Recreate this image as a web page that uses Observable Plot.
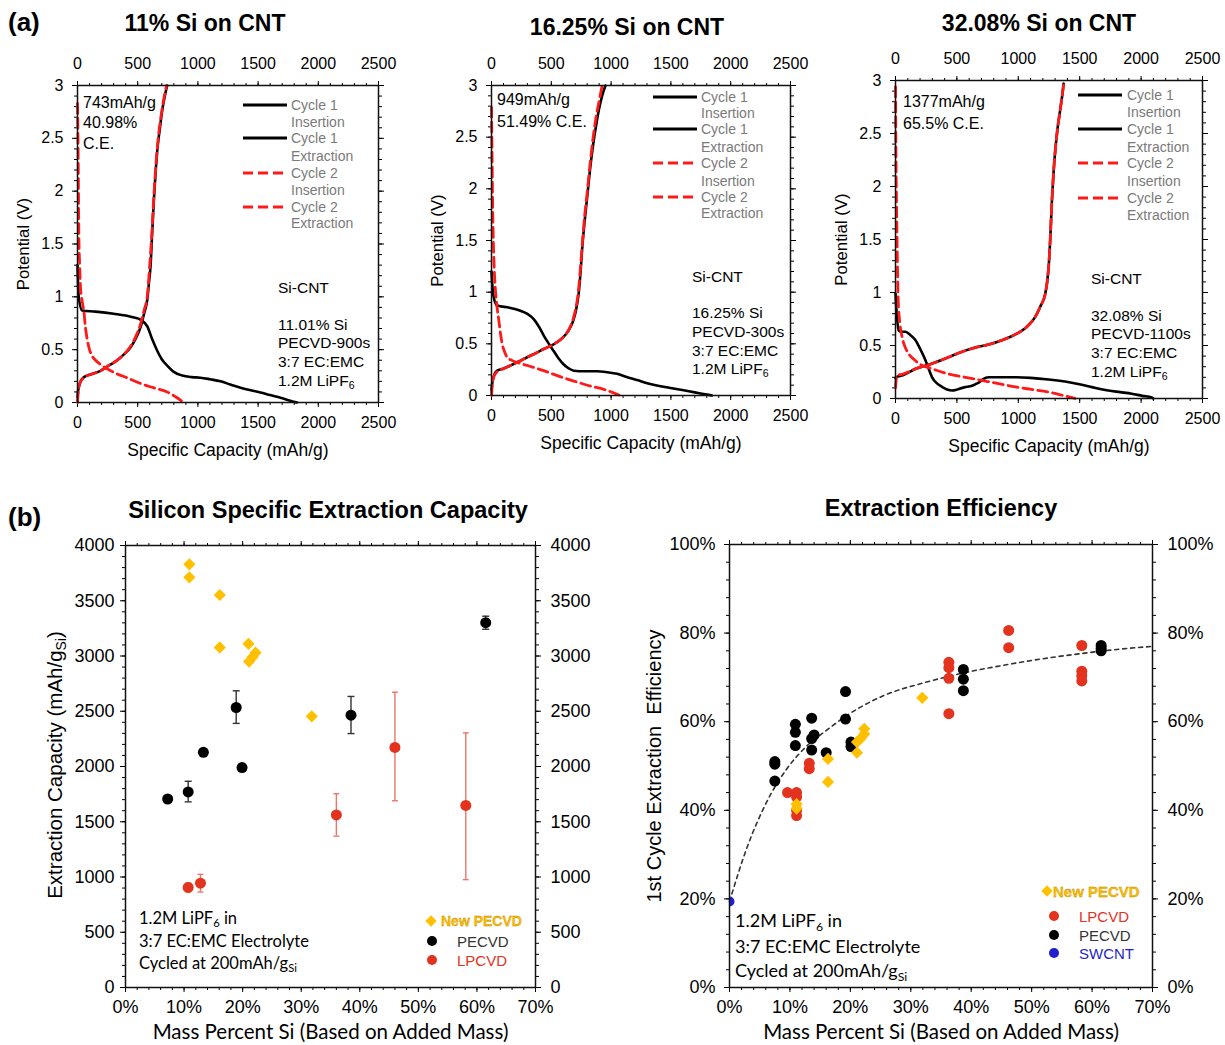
<!DOCTYPE html>
<html>
<head>
<meta charset="utf-8">
<script src="https://cdn.jsdelivr.net/npm/d3@7"></script>
<script src="https://cdn.jsdelivr.net/npm/@observablehq/plot@0.6"></script>
<style>
html,body{margin:0;padding:0;background:#fff;}
#root{position:relative;width:1225px;height:1045px;overflow:hidden;background:#fff;}
#root > svg{position:absolute;}
.t{position:absolute;white-space:nowrap;line-height:1;}
.t sub{font-size:0.68em;vertical-align:-0.3em;line-height:0;}
.sw{position:absolute;}
</style>
</head>
<body>
<div id="root"></div>
<script>
// ---------------- DATA ----------------
// Panel (a): voltage profiles, [specific capacity (mAh/g), potential (V)]
const capTicks = [0, 500, 1000, 1500, 2000, 2500];
const potTicks = [0, 0.5, 1, 1.5, 2, 2.5, 3];

const a1_c1_ins = [[0,1.3],[10,1.0],[39,0.87],[150,0.86],[300,0.84],[450,0.81],[530,0.78],[580,0.72],[620,0.6],[662,0.49],[700,0.41],[745,0.35],[800,0.29],[870,0.255],[950,0.24],[1021,0.235],[1100,0.22],[1188,0.2],[1270,0.17],[1354,0.14],[1440,0.115],[1520,0.095],[1600,0.07],[1686,0.045],[1760,0.02],[1824,0.0]];
const a1_c1_ext = [[0,0.05],[5,0.11],[20,0.18],[53,0.24],[120,0.27],[191,0.30],[260,0.35],[330,0.40],[390,0.46],[440,0.52],[490,0.62],[523,0.71],[555,0.85],[579,0.97],[595,1.15],[606,1.28],[620,1.6],[634,1.91],[650,2.2],[662,2.38],[685,2.6],[703,2.76],[725,2.9],[745,3.0]];
const a1_c2_ins = [[0,2.83],[5,2.4],[8,2.0],[11,1.6],[18,1.3],[25,1.09],[40,0.95],[53,0.86],[65,0.72],[80,0.6],[100,0.5],[122,0.44],[150,0.40],[191,0.36],[260,0.31],[330,0.27],[420,0.23],[523,0.18],[630,0.14],[745,0.10],[820,0.05],[883,0.0]];
const a1_c2_ext = [[0,0.0],[8,0.12],[25,0.2],[60,0.24],[120,0.27],[191,0.30],[260,0.35],[330,0.40],[390,0.46],[440,0.53],[490,0.64],[523,0.74],[555,0.88],[579,1.0],[600,1.3],[620,1.65],[634,1.95],[662,2.4],[703,2.78],[740,3.0]];

const a2_c1_ins = [[0,1.2],[14,0.98],[47,0.87],[150,0.85],[242,0.82],[300,0.79],[353,0.74],[400,0.66],[437,0.58],[480,0.50],[520,0.43],[560,0.36],[604,0.3],[650,0.26],[688,0.24],[780,0.235],[883,0.235],[970,0.225],[1050,0.21],[1130,0.18],[1217,0.15],[1310,0.115],[1412,0.09],[1510,0.07],[1607,0.05],[1700,0.03],[1774,0.015],[1844,0]];
const a2_c1_ext = [[0,0.05],[5,0.11],[20,0.19],[47,0.24],[100,0.26],[159,0.29],[230,0.33],[298,0.37],[370,0.41],[437,0.45],[510,0.49],[576,0.54],[620,0.59],[660,0.66],[685,0.73],[702,0.8],[718,0.9],[730,1.0],[745,1.2],[758,1.42],[780,1.7],[799,1.91],[825,2.2],[855,2.47],[880,2.65],[897,2.76],[925,2.9],[953,3.0]];
const a2_c2_ins = [[0,2.79],[5,2.3],[10,1.8],[14,1.56],[22,1.25],[33,1.02],[47,0.85],[61,0.73],[75,0.6],[89,0.5],[110,0.42],[131,0.37],[170,0.34],[214,0.32],[300,0.29],[437,0.24],[580,0.18],[716,0.13],[830,0.09],[939,0.06],[1010,0.03],[1078,0]];
const a2_c2_ext = [[0,0],[8,0.12],[19,0.18],[47,0.23],[100,0.26],[159,0.29],[230,0.33],[298,0.37],[370,0.41],[437,0.45],[510,0.49],[576,0.54],[620,0.59],[660,0.67],[685,0.75],[702,0.83],[718,0.93],[730,1.05],[745,1.25],[758,1.45],[780,1.75],[799,1.95],[825,2.25],[850,2.5],[875,2.7],[900,2.85],[925,3.0]];

const a3_c1_ins = [[0,0.99],[10,0.8],[27,0.64],[50,0.63],[81,0.63],[120,0.6],[163,0.55],[200,0.47],[244,0.36],[270,0.28],[298,0.2],[340,0.14],[379,0.11],[420,0.085],[461,0.075],[490,0.08],[515,0.09],[560,0.105],[623,0.12],[660,0.14],[678,0.15],[710,0.18],[759,0.2],[860,0.2],[976,0.2],[1100,0.195],[1247,0.18],[1380,0.16],[1518,0.13],[1630,0.1],[1734,0.075],[1830,0.06],[1924,0.045],[2010,0.025],[2087,0.01],[2100,0]];
const a3_c1_ext = [[0,0.19],[5,0.2],[60,0.22],[163,0.28],[300,0.33],[434,0.39],[540,0.44],[650,0.48],[760,0.51],[867,0.55],[950,0.59],[1030,0.64],[1090,0.7],[1138,0.77],[1180,0.87],[1220,0.99],[1235,1.1],[1247,1.24],[1260,1.5],[1274,1.87],[1288,2.15],[1301,2.34],[1320,2.55],[1341,2.72],[1360,2.88],[1369,2.97]];
const a3_c2_ins = [[0,2.94],[3,2.4],[8,1.87],[14,1.4],[22,0.92],[35,0.72],[54,0.58],[80,0.48],[108,0.42],[150,0.37],[190,0.33],[300,0.28],[434,0.23],[570,0.2],[705,0.17],[840,0.14],[976,0.11],[1110,0.085],[1247,0.06],[1360,0.03],[1463,0]];
const a3_c2_ext = [[0,0.1],[6,0.18],[14,0.22],[60,0.23],[163,0.28],[300,0.33],[434,0.39],[540,0.44],[650,0.48],[760,0.51],[867,0.55],[950,0.59],[1030,0.64],[1090,0.7],[1138,0.77],[1180,0.87],[1220,0.99],[1235,1.1],[1247,1.24],[1260,1.5],[1274,1.87],[1288,2.15],[1301,2.34],[1320,2.55],[1341,2.72],[1360,2.88],[1372,3.0]];

// Panel (b) left: extraction capacity vs mass percent Si
const pctTicks = [0, 10, 20, 30, 40, 50, 60, 70];
const capYTicks = [0, 500, 1000, 1500, 2000, 2500, 3000, 3500, 4000];
const capNewX = [10.9, 10.9, 16.1, 16.1, 21.0, 21.1, 21.7, 22.2, 31.8];
const capNewY = [3830, 3712, 3552, 3078, 3110, 2950, 2990, 3030, 2454];
const capPeX  = [7.2, 10.7, 13.3, 18.9, 19.9, 38.5, 61.5];
const capPeY  = [1706, 1770, 2128, 2534, 1990, 2464, 3302];
const capPeLo = [1676, 1680, 2098, 2390, 1960, 2298, 3242];
const capPeHi = [1736, 1866, 2158, 2685, 2020, 2634, 3360];
const capLpX  = [10.7, 12.8, 36.0, 46.0, 58.1];
const capLpY  = [906, 944, 1562, 2173, 1648];
const capLpLo = [866, 864, 1370, 1690, 976];
const capLpHi = [946, 1024, 1754, 2672, 2304];

// Panel (b) right: 1st cycle extraction efficiency (%) vs mass percent Si
const effTicks = [0, 20, 40, 60, 80, 100];
const effPeX = [7.5, 7.5, 7.5, 10.9, 10.9, 10.9, 13.6, 13.6, 14.0, 13.6, 16.0, 19.2, 19.2, 20.1, 20.1, 38.7, 38.7, 38.7, 61.5, 61.5, 61.5];
const effPeY = [51.0, 50.4, 46.6, 59.4, 57.6, 54.6, 60.8, 56.2, 57.0, 53.6, 53.0, 66.8, 60.6, 55.4, 54.4, 71.8, 69.6, 67.0, 77.2, 76.6, 76.0];
const effLpX = [9.6, 11.1, 11.1, 11.1, 11.1, 13.2, 13.2, 36.3, 36.3, 36.3, 36.3, 46.2, 46.2, 58.3, 58.3, 58.3, 58.3];
const effLpY = [44.0, 44.0, 43.0, 40.0, 38.8, 50.6, 49.4, 73.4, 72.2, 69.8, 61.8, 80.6, 76.7, 77.2, 71.4, 70.4, 69.2];
const effNewX = [11.1, 11.1, 16.3, 16.3, 21.1, 21.1, 21.7, 22.3, 22.3, 31.9];
const effNewY = [41.4, 40.4, 51.6, 46.4, 53.0, 55.4, 56.2, 57.2, 58.4, 65.4];
const effSwX = [0];
const effSwY = [19.4];
const fitX = [0, 2.9, 6.2, 9.4, 12.7, 16.0, 19.2, 25.7, 32.2, 38.7, 45.2, 51.8, 58.3, 64.8, 70];
const fitY = [19.4, 31.6, 42, 49.2, 54.4, 58, 61.2, 66, 68.8, 71, 72.7, 74.2, 75.4, 76.4, 77.0];

// ---------------- STYLE ----------------
const SANS = '"Liberation Sans", Arial, Helvetica, sans-serif';
const LATO = 'Lato, "Open Sans", sans-serif';
const GOLD = "#FFC000", LPRED = "#E3321D", BLUE = "#1F1FCC", DRED = "#FF1A1A";
const root = document.getElementById("root");

function place(svg, left, top) {
  svg.style.left = left + "px";
  svg.style.top = top + "px";
  root.appendChild(svg);
}
function txt(html, x, y, o = {}) {
  const d = document.createElement("div");
  d.className = "t";
  d.innerHTML = html;
  const tx = o.anchor === "middle" ? "-50%" : o.anchor === "end" ? "-100%" : "0";
  d.style.left = x + "px";
  d.style.top = y + "px";
  d.style.transform = `translate(${tx},-50%)` + (o.rotate ? ` rotate(${o.rotate}deg)` : "");
  d.style.fontSize = (o.size || 15) + "px";
  d.style.fontFamily = o.font || SANS;
  d.style.fontWeight = o.weight || "normal";
  d.style.color = o.color || "#000";
  if (o.stroke) d.style.webkitTextStroke = o.stroke;
  root.appendChild(d);
  return d;
}
function lineSwatch(x, y, w, dashed) {
  const ns = "http://www.w3.org/2000/svg";
  const s = document.createElementNS(ns, "svg");
  s.setAttribute("width", w); s.setAttribute("height", 6);
  s.setAttribute("class", "sw");
  s.style.left = x + "px"; s.style.top = (y - 3) + "px"; s.style.position = "absolute";
  const l = document.createElementNS(ns, "line");
  l.setAttribute("x1", 0); l.setAttribute("x2", w); l.setAttribute("y1", 3); l.setAttribute("y2", 3);
  l.setAttribute("stroke", dashed ? DRED : "#000");
  l.setAttribute("stroke-width", 3);
  if (dashed) l.setAttribute("stroke-dasharray", "10,5");
  s.appendChild(l);
  root.appendChild(s);
}
function marker(x, y, shape, color, size) {
  const d = document.createElement("div");
  d.style.position = "absolute";
  const s = size;
  d.style.width = s + "px"; d.style.height = s + "px";
  d.style.left = (x - s / 2) + "px"; d.style.top = (y - s / 2) + "px";
  d.style.background = color;
  if (shape === "circle") d.style.borderRadius = "50%";
  else d.style.transform = "rotate(45deg)";
  root.appendChild(d);
}

const noLabel = () => "";
const fmtNum = d => String(d);
const fmtPct = d => d + "%";

function axes4({xMaj, xMin, yMaj, yMin, xFmt, yFmt, topLabels, rightLabels, padX, padXT, padYL, padYR, fontSize}) {
  const m = [];
  m.push(Plot.axisX(xMin, {anchor: "bottom", tickSize: 3, tickFormat: noLabel, label: null}));
  m.push(Plot.axisX(xMaj, {anchor: "bottom", tickSize: 5, tickPadding: padX, tickFormat: xFmt, label: null, fontSize}));
  m.push(Plot.axisX(xMin, {anchor: "top", tickSize: 3, tickFormat: noLabel, label: null}));
  m.push(Plot.axisX(xMaj, {anchor: "top", tickSize: 5, tickPadding: padXT, tickFormat: topLabels ? xFmt : noLabel, label: null, fontSize}));
  m.push(Plot.axisY(yMin, {anchor: "left", tickSize: 3, tickFormat: noLabel, label: null}));
  m.push(Plot.axisY(yMaj, {anchor: "left", tickSize: 5, tickPadding: padYL, tickFormat: yFmt, label: null, fontSize}));
  m.push(Plot.axisY(yMin, {anchor: "right", tickSize: 3, tickFormat: noLabel, label: null}));
  m.push(Plot.axisY(yMaj, {anchor: "right", tickSize: 5, tickPadding: padYR, tickFormat: rightLabels ? yFmt : noLabel, label: null, fontSize}));
  return m;
}

const toPts = arr => arr.map(([c, v]) => ({c, v}));

// ---------------- PANEL (a) ----------------
function voltagePanel(p) {
  const marks = [
    ...axes4({xMaj: capTicks, xMin: d3.range(0, 2501, 100), yMaj: potTicks, yMin: d3.range(0, 3.001, 0.1),
      xFmt: fmtNum, yFmt: fmtNum, topLabels: true, rightLabels: false, padX: 9, padXT: 12, padYL: 9, padYR: 4, fontSize: 16}),
    Plot.line(toPts(p.c1ins), {x: "c", y: "v", stroke: "#000", strokeWidth: 2.6, curve: "monotone-x"}),
    Plot.line(toPts(p.c1ext), {x: "c", y: "v", stroke: "#000", strokeWidth: 2.6, curve: "monotone-x"}),
    Plot.line(toPts(p.c2ins), {x: "c", y: "v", stroke: DRED, strokeWidth: 2.8, strokeDasharray: "10,5", curve: "monotone-x"}),
    Plot.line(toPts(p.c2ext), {x: "c", y: "v", stroke: DRED, strokeWidth: 2.8, strokeDasharray: "10,5", curve: "monotone-x"}),
    Plot.frame({stroke: "#111", strokeWidth: 1.5}),
    Plot.text(["Specific Capacity (mAh/g)"], {frameAnchor: "bottom", dy: 48, text: d => d, fontSize: 17.5, textAnchor: "middle", lineAnchor: "middle"}),
    Plot.text(["Potential (V)"], {frameAnchor: "left", dx: -54, rotate: -90, text: d => d, fontSize: 16.8, textAnchor: "middle", lineAnchor: "middle"})
  ];
  const svg = Plot.plot({
    width: p.width, height: 465,
    marginLeft: p.ml, marginRight: p.mr, marginTop: p.mt, marginBottom: p.mb,
    x: {domain: [0, 2500], label: null},
    y: {domain: [0, 3], label: null},
    style: {fontFamily: SANS, fontSize: "16px", color: "#000", background: "transparent", overflow: "visible"},
    marks
  });
  place(svg, p.left, 0);
}

voltagePanel({left: 0, width: 410, ml: 77, mr: 32, mt: 85, mb: 63, c1ins: a1_c1_ins, c1ext: a1_c1_ext, c2ins: a1_c2_ins, c2ext: a1_c2_ext});
voltagePanel({left: 410, width: 410, ml: 81, mr: 30, mt: 85, mb: 70, c1ins: a2_c1_ins, c1ext: a2_c1_ext, c2ins: a2_c2_ins, c2ext: a2_c2_ext});
voltagePanel({left: 820, width: 405, ml: 75, mr: 23, mt: 80, mb: 67, c1ins: a3_c1_ins, c1ext: a3_c1_ext, c2ins: a3_c2_ins, c2ext: a3_c2_ext});

// ---------------- PANEL (b) left ----------------
{
  const nw = capNewX.map((x, i) => ({x, y: capNewY[i]}));
  const pe = capPeX.map((x, i) => ({x, y: capPeY[i], lo: capPeLo[i], hi: capPeHi[i]}));
  const lp = capLpX.map((x, i) => ({x, y: capLpY[i], lo: capLpLo[i], hi: capLpHi[i]}));
  const marks = [
    ...axes4({xMaj: pctTicks, xMin: d3.range(0, 70.1, 2), yMaj: capYTicks, yMin: d3.range(0, 4001, 100),
      xFmt: fmtPct, yFmt: fmtNum, topLabels: false, rightLabels: true, padX: 8, padXT: 4, padYL: 6, padYR: 10, fontSize: 18}),
    Plot.ruleX(lp, {x: "x", y1: "lo", y2: "hi", stroke: "#E8766A", strokeWidth: 1.4}),
    Plot.link(lp, {x1: d => d.x - 0.5, x2: d => d.x + 0.5, y1: "hi", y2: "hi", stroke: "#E8766A", strokeWidth: 1.4}),
    Plot.link(lp, {x1: d => d.x - 0.5, x2: d => d.x + 0.5, y1: "lo", y2: "lo", stroke: "#E8766A", strokeWidth: 1.4}),
    Plot.ruleX(pe, {x: "x", y1: "lo", y2: "hi", stroke: "#333", strokeWidth: 1.4}),
    Plot.link(pe, {x1: d => d.x - 0.6, x2: d => d.x + 0.6, y1: "hi", y2: "hi", stroke: "#333", strokeWidth: 1.4}),
    Plot.link(pe, {x1: d => d.x - 0.6, x2: d => d.x + 0.6, y1: "lo", y2: "lo", stroke: "#333", strokeWidth: 1.4}),
    Plot.dot(nw, {x: "x", y: "y", symbol: "diamond2", r: 5.5, fill: GOLD}),
    Plot.dot(pe, {x: "x", y: "y", r: 5.5, fill: "#000"}),
    Plot.dot(lp, {x: "x", y: "y", r: 5.5, fill: LPRED}),
    Plot.frame({stroke: "#111", strokeWidth: 1.5}),
    Plot.text(["Mass Percent Si (Based on Added Mass)"], {frameAnchor: "bottom", dy: 45, text: d => d, fontSize: 20.5, fontFamily: LATO, textAnchor: "middle", lineAnchor: "middle"})
  ];
  const svg = Plot.plot({
    width: 610, height: 565, marginLeft: 125, marginRight: 75, marginTop: 65, marginBottom: 58,
    x: {domain: [0, 70], label: null},
    y: {domain: [0, 4000], label: null},
    style: {fontFamily: SANS, fontSize: "18px", color: "#000", background: "transparent", overflow: "visible"},
    marks
  });
  place(svg, 0, 480);
}

// ---------------- PANEL (b) right ----------------
{
  const pe = effPeX.map((x, i) => ({x, y: effPeY[i]}));
  const lp = effLpX.map((x, i) => ({x, y: effLpY[i]}));
  const nw = effNewX.map((x, i) => ({x, y: effNewY[i]}));
  const sw = effSwX.map((x, i) => ({x, y: effSwY[i]}));
  const fit = fitX.map((x, i) => ({x, y: fitY[i]}));
  const marks = [
    ...axes4({xMaj: pctTicks, xMin: d3.range(0, 70.1, 2), yMaj: effTicks, yMin: d3.range(0, 100.1, 4),
      xFmt: fmtPct, yFmt: fmtPct, topLabels: false, rightLabels: true, padX: 8, padXT: 4, padYL: 9, padYR: 10, fontSize: 18}),
    Plot.line(fit, {x: "x", y: "y", stroke: "#333", strokeWidth: 1.6, strokeDasharray: "4,4", curve: "monotone-x"}),
    Plot.dot(pe, {x: "x", y: "y", r: 5.5, fill: "#000"}),
    Plot.dot(lp, {x: "x", y: "y", r: 5.5, fill: LPRED}),
    Plot.dot(nw, {x: "x", y: "y", symbol: "diamond2", r: 5.5, fill: GOLD}),
    Plot.dot(sw, {x: "x", y: "y", r: 5, fill: BLUE, clip: true}),
    Plot.frame({stroke: "#111", strokeWidth: 1.5}),
    Plot.text(["Mass Percent Si (Based on Added Mass)"], {frameAnchor: "bottom", dy: 45, text: d => d, fontSize: 20.5, fontFamily: LATO, textAnchor: "middle", lineAnchor: "middle"}),
    Plot.text(["1st Cycle Extraction  Efficiency"], {frameAnchor: "left", dx: -75, rotate: -90, text: d => d, fontSize: 20, textAnchor: "middle", lineAnchor: "middle"})
  ];
  const svg = Plot.plot({
    width: 615, height: 565, marginLeft: 119, marginRight: 73, marginTop: 64, marginBottom: 58,
    x: {domain: [0, 70], label: null},
    y: {domain: [0, 100], label: null},
    style: {fontFamily: SANS, fontSize: "18px", color: "#000", background: "transparent", overflow: "visible"},
    marks
  });
  place(svg, 610, 480);
}

// ---------------- TITLES & ANNOTATIONS ----------------
txt("(a)", 8, 22, {size: 26, weight: "bold"});
txt("11% Si on CNT", 205, 23, {size: 23, weight: "bold", anchor: "middle"});
txt("16.25% Si on CNT", 627, 27, {size: 23, weight: "bold", anchor: "middle"});
txt("32.08% Si on CNT", 1039, 23, {size: 23, weight: "bold", anchor: "middle"});
txt("(b)", 8, 517, {size: 26, weight: "bold"});
txt("Silicon Specific Extraction Capacity", 328, 511, {size: 23.5, weight: "bold", anchor: "middle"});
txt("Extraction Efficiency", 941, 509, {size: 23.5, weight: "bold", anchor: "middle"});

// panel a annotations
const legLabels = ["Cycle 1", "Insertion", "Cycle 1", "Extraction", "Cycle 2", "Insertion", "Cycle 2", "Extraction"];
function aLegend(x0, x1, tx, ys) {
  [0, 2, 4, 6].forEach((k, j) => lineSwatch(x0, ys[k], x1 - x0, j >= 2));
  legLabels.forEach((s, i) => txt(s, tx, ys[i], {size: 14, color: "#7a7a7a"}));
}
aLegend(243, 287, 291, [105, 122, 138, 156, 173, 190, 207, 223]);
aLegend(653, 697, 701, [97, 113, 129, 147, 163, 181, 197, 213]);
aLegend(1078, 1122, 1127, [95, 112, 129, 147, 163, 181, 198, 215]);

txt("743mAh/g", 83, 103, {size: 16});
txt("40.98%", 83, 123, {size: 16});
txt("C.E.", 83, 144, {size: 16});
txt("949mAh/g", 497, 100, {size: 16});
txt("51.49% C.E.", 497, 122, {size: 16});
txt("1377mAh/g", 903, 102, {size: 16});
txt("65.5% C.E.", 903, 124, {size: 16});

function sample(x, ys, lines) { lines.forEach((s, i) => txt(s, x, ys[i], {size: 15.5})); }
sample(278, [288, 325, 343, 362, 381], ["Si-CNT", "11.01% Si", "PECVD-900s", "3:7 EC:EMC", "1.2M LiPF<sub>6</sub>"]);
sample(692, [277, 313, 332, 351, 369], ["Si-CNT", "16.25% Si", "PECVD-300s", "3:7 EC:EMC", "1.2M LiPF<sub>6</sub>"]);
sample(1091, [279, 316, 334, 353, 372], ["Si-CNT", "32.08% Si", "PECVD-1100s", "3:7 EC:EMC", "1.2M LiPF<sub>6</sub>"]);

// panel b annotations
txt("Extraction Capacity (mAh/g<sub>Si</sub>)", 55, 765, {size: 20.5, anchor: "middle", rotate: -90});

txt("1.2M LiPF<sub>6</sub> in", 139, 918, {size: 16.5, font: LATO});
txt("3:7 EC:EMC Electrolyte", 139, 941, {size: 16.5, font: LATO});
txt("Cycled at 200mAh/g<sub>Si</sub>", 139, 963, {size: 16.5, font: LATO});
txt("1.2M LiPF<sub>6</sub> in", 735, 920, {size: 18, font: LATO});
txt("3:7 EC:EMC Electrolyte", 735, 946, {size: 18, font: LATO});
txt("Cycled at 200mAh/g<sub>Si</sub>", 735, 970, {size: 18, font: LATO});

// legends in (b)
marker(431, 921, "diamond", GOLD, 8);
txt("New PECVD", 441, 921, {size: 14, weight: "bold", color: GOLD, stroke: "0.3px #b08000"});
marker(432, 941, "circle", "#000", 10);
txt("PECVD", 457, 941, {size: 15, color: "#333"});
marker(432, 960, "circle", LPRED, 10);
txt("LPCVD", 457, 960, {size: 15, color: LPRED});

marker(1047, 891, "diamond", GOLD, 8);
txt("New PECVD", 1053, 891, {size: 15, weight: "bold", color: GOLD, stroke: "0.3px #b08000"});
marker(1054, 916, "circle", LPRED, 10);
txt("LPCVD", 1079, 916, {size: 15, color: LPRED});
marker(1054, 935, "circle", "#000", 10);
txt("PECVD", 1079, 935, {size: 15, color: "#333"});
marker(1054, 953, "circle", BLUE, 10);
txt("SWCNT", 1079, 953, {size: 15, color: BLUE});
</script>
</body>
</html>
